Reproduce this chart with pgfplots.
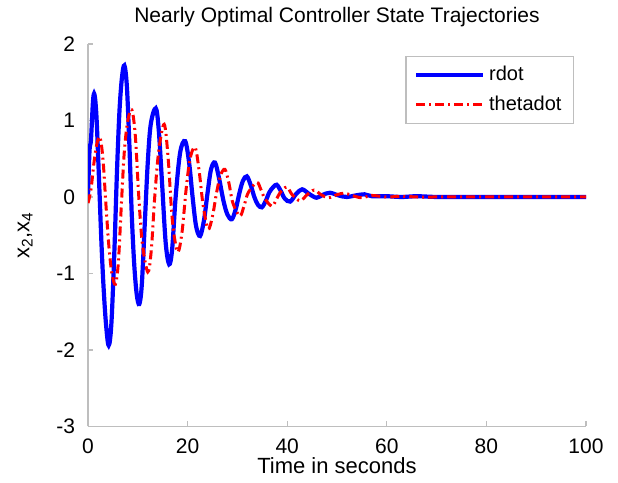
\documentclass[border=0pt]{standalone}
\usepackage{pgfplots}
\pgfplotsset{compat=1.18}
\usepackage{fontspec}
\setmainfont{Liberation Sans}
\definecolor{mblue}{RGB}{0,0,255}
\definecolor{mred}{RGB}{255,0,0}
\definecolor{axgray}{RGB}{190,190,190}
\begin{document}
\begin{tikzpicture}
\begin{axis}[
  scale only axis,
  width=249pt, height=191.25pt,
  xmin=0, xmax=100, ymin=-3, ymax=2,
  xtick={0,20,40,60,80,100},
  ytick={-3,-2,-1,0,1,2},
  axis x line*=bottom, axis y line*=left,
  axis line style={draw=axgray, line width=0.6pt},
  tick style={draw=axgray, line width=0.6pt},
  tick align=inside,
  major tick length=2.5pt,
  /pgf/number format/assume math mode=true,
  ticklabel style={font=\fontsize{10.5}{12}\selectfont},
  xticklabel style={yshift=-2.5pt},
  yticklabel style={xshift=-3pt},
  title={Nearly Optimal Controller State Trajectories},
  every axis title shift=0pt,
  title style={at={(axis description cs:0.5,1)}, anchor=center, yshift=13.5pt, font=\fontsize{10.5}{12}\selectfont},
  xlabel={Time in seconds},
  xlabel style={at={(axis description cs:0.5,0)}, anchor=center, yshift=-19.5pt, font=\fontsize{11}{13}\selectfont},
  ylabel={x\textsubscript{2},x\textsubscript{4}},
  ylabel style={at={(axis description cs:-0.126,0.5)}, anchor=center, font=\fontsize{11}{13}\selectfont},
  legend style={at={(axis description cs:0.976,0.969)}, anchor=north east,
    draw=axgray, line width=0.6pt, font=\fontsize{10}{12}\selectfont,
    inner xsep=4pt, inner ysep=3pt, row sep=2pt},
  legend cell align=left,
  legend image code/.code={\draw[#1] (0pt,0pt) -- (33.5pt,0pt);},
]
\addplot[mblue, line width=2.1pt, smooth, tension=0.55] coordinates {
(0,0) (0.3,0.6) (0.6,0.75) (1.0,1.25) (1.3,1.34) (1.7,1.05) (2.2,0.25) (2.7,-0.6)
(3.1,-1.15) (3.6,-1.65) (4.15,-1.94) (4.7,-1.65) (5.3,-0.7) (5.8,0.3) (6.3,1.1)
(6.8,1.55) (7.3,1.72) (7.8,1.45) (8.3,0.7) (8.8,-0.25) (9.3,-0.9) (9.8,-1.28)
(10.3,-1.40) (10.8,-1.15) (11.4,-0.35) (12.0,0.45) (12.6,0.95) (13.6,1.16)
(14.2,0.88) (14.9,0.15) (15.6,-0.6) (16.3,-0.88) (16.9,-0.68) (17.6,0.0)
(18.5,0.58) (19.5,0.73) (20.3,0.45) (21.0,0.0) (21.7,-0.38) (22.5,-0.51)
(23.3,-0.3) (24.0,0.05) (24.7,0.36) (25.5,0.45) (26.3,0.25) (27.2,-0.05)
(28.0,-0.23) (28.9,-0.29) (29.7,-0.15) (30.4,0.05) (31.1,0.21) (31.9,0.27)
(32.7,0.15) (33.4,0.0) (34.1,-0.1) (34.9,-0.135) (35.7,-0.05) (36.4,0.06)
(37.2,0.13) (37.9,0.16) (38.7,0.08) (39.5,-0.02) (40.6,-0.06) (41.8,0.04)
(43.0,0.10) (44.4,0.04) (45.9,-0.01) (47.2,0.03) (48.6,0.055) (50.3,0.02)
(52.0,0.0) (53.7,0.02) (55.5,0.035) (57,0.01) (60,0.01) (63,0.0) (66,0.01)
(70,0.0) (75,0.0) (80,0.0) (90,0.0) (100,0.0)
};
\addlegendentry{rdot}
\addplot[mred, line width=1.5pt, smooth, tension=0.55, dash pattern=on 4.5pt off 2pt on 1pt off 2pt] coordinates {
(0,-0.08) (0.6,0.1) (1.2,0.45) (1.8,0.7) (2.4,0.78) (3.0,0.5) (3.6,-0.1)
(4.2,-0.65) (4.8,-1.0) (5.5,-1.14) (6.1,-0.85) (6.7,-0.1) (7.3,0.6) (8.0,1.0)
(8.8,1.14) (9.5,0.8) (10.2,0.0) (10.9,-0.6) (12.0,-0.98) (12.7,-0.7)
(13.4,0.0) (14.2,0.6) (15.3,0.95) (16.1,0.5) (16.8,-0.2) (17.4,-0.55)
(18.1,-0.72) (18.9,-0.45) (19.7,0.1) (20.5,0.5) (21.5,0.65) (22.3,0.35)
(23.1,-0.1) (24.1,-0.42) (25.0,-0.25) (25.8,0.05) (26.6,0.28) (27.5,0.36)
(28.3,0.18) (29.1,-0.08) (30.5,-0.25) (31.4,-0.1) (32.2,0.06) (33.9,0.19)
(34.7,0.1) (35.5,-0.02) (36.9,-0.12) (37.7,-0.05) (38.5,0.05) (39.9,0.13)
(41.0,0.03) (42.6,-0.05) (44.0,0.03) (45.4,0.09) (46.8,0.03) (48.3,-0.01)
(50.0,0.03) (51.5,0.05) (53,0.02) (55,-0.01) (57,0.02) (60,0.0) (63,0.01)
(66,0.0) (70,0.0) (75,0.0) (80,0.0) (90,0.0) (100,0.0)
};
\addlegendentry{thetadot}
\end{axis}
\pgfresetboundingbox
\path[use as bounding box] ([xshift=-44pt,yshift=-28pt]current axis.south west) rectangle ([xshift=16pt,yshift=22pt]current axis.north east);
\end{tikzpicture}
\end{document}
